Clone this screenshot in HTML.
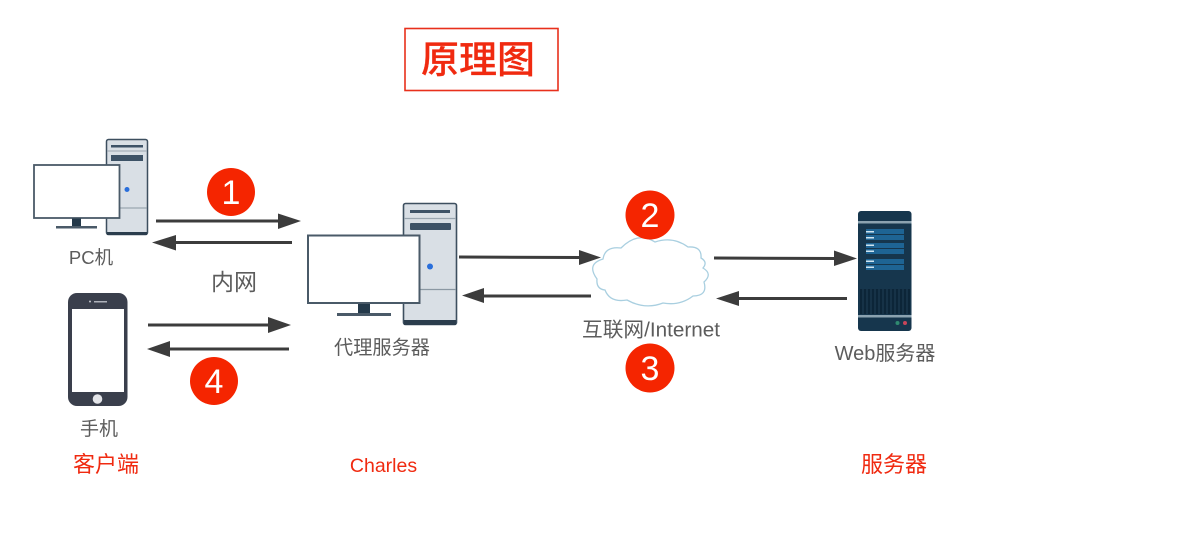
<!DOCTYPE html>
<html>
<head>
<meta charset="utf-8">
<style>
html,body{margin:0;padding:0;background:#fff;width:1190px;height:546px;overflow:hidden}
svg{display:block;filter:blur(.35px)}
text{font-family:"Liberation Sans","Noto Sans CJK SC",sans-serif}
</style>
</head>
<body>
<svg width="1190" height="546" viewBox="0 0 1190 546" xmlns="http://www.w3.org/2000/svg">
<rect width="1190" height="546" fill="#fff"/>

<!-- title -->
<rect x="405" y="28.500" width="153" height="62" fill="#fff" stroke="#e8301c" stroke-width="1.600"/>
<text x="478" y="73" font-size="38" font-weight="500" fill="#f02a10" stroke="#f02a10" stroke-width=".2" text-anchor="middle">原理图</text>

<!-- PC tower -->
<rect x="106.500" y="139.500" width="41" height="95" rx="2" fill="#d9dfe5" stroke="#3d4f5f" stroke-width="1.500"/>
<rect x="107" y="232" width="40" height="3" fill="#2b3d4d"/>
<rect x="111" y="145" width="32" height="2.500" fill="#3d5266"/>
<line x1="107" y1="151" x2="147" y2="151" stroke="#9aa6b0" stroke-width="1"/>
<rect x="111" y="155" width="32" height="6" fill="#3d5266"/>
<line x1="107" y1="208" x2="147" y2="208" stroke="#8b98a3" stroke-width="1"/>
<circle cx="127" cy="189.500" r="2.500" fill="#2a6fdb"/>
<!-- PC monitor -->
<rect x="34" y="165" width="85.500" height="53" fill="#fff" stroke="#4a5a68" stroke-width="1.800"/>
<rect x="72" y="218.500" width="9" height="8" fill="#24394a"/>
<rect x="56" y="226" width="41" height="2.500" fill="#4a5a68"/>

<!-- proxy tower -->
<rect x="403.500" y="203.500" width="53" height="121" rx="2" fill="#d9dfe5" stroke="#3d4f5f" stroke-width="1.600"/>
<rect x="404" y="320" width="52" height="5" fill="#2b3d4d"/>
<rect x="410" y="210" width="40" height="3" fill="#3d5266"/>
<line x1="404" y1="218.500" x2="456" y2="218.500" stroke="#9aa6b0" stroke-width="1.200"/>
<rect x="410" y="223" width="41" height="7" rx="1" fill="#3d5266"/>
<line x1="404" y1="289.500" x2="456" y2="289.500" stroke="#8b98a3" stroke-width="1.200"/>
<circle cx="430" cy="266.500" r="3" fill="#2a6fdb"/>
<!-- proxy monitor -->
<rect x="308" y="235.500" width="111.500" height="67.500" fill="#fff" stroke="#4a5a68" stroke-width="2"/>
<rect x="358" y="304" width="12" height="10" fill="#24394a"/>
<rect x="337" y="313" width="54" height="3" fill="#4a5a68"/>

<!-- phone -->
<rect x="68" y="293" width="59.500" height="113" rx="9" fill="#3a3f4c"/>
<rect x="72" y="309" width="52" height="83" fill="#fff"/>
<rect x="94" y="301" width="13" height="1.500" fill="#aeb2ba"/>
<circle cx="90" cy="301.500" r="1" fill="#c5c8ce"/>
<circle cx="97.500" cy="399" r="4.800" fill="#e4e5e9"/>

<!-- cloud -->
<path d="M603 259 Q605 246 621 248 Q638 231 655 242 Q673 236 688 247 Q702 246 701 258 Q708 262 703 268 Q713 274 704 282 Q708 296 693 296 Q680 306 663 303 Q645 310 627 300 Q610 303 605 290 Q596 289 597 279 Q586 264 603 259 Z" fill="#fff" stroke="#a9cfe0" stroke-width="1.300"/>

<!-- web server -->
<rect x="858" y="211" width="53.500" height="120" rx="3" fill="#16364d"/>
<rect x="858" y="221" width="53.500" height="2.500" fill="#8ba2b0"/>
<rect x="858" y="315" width="53.500" height="2.500" fill="#8ba2b0"/>
<rect x="866" y="229" width="38" height="5" fill="#1e6494"/>
<rect x="866" y="235" width="38" height="5" fill="#1e6494"/>
<rect x="866" y="243" width="38" height="5" fill="#1e6494"/>
<rect x="866" y="249" width="38" height="5" fill="#1e6494"/>
<rect x="866" y="259" width="38" height="5" fill="#1e6494"/>
<rect x="866" y="265" width="38" height="5" fill="#1e6494"/>
<g fill="#cfe4f0">
<rect x="866" y="231" width="8" height="1.500"/><rect x="866" y="237" width="8" height="1.500"/>
<rect x="866" y="244.500" width="8" height="1.500"/><rect x="866" y="250.500" width="8" height="1.500"/>
<rect x="866" y="260.500" width="8" height="1.500"/><rect x="866" y="266.500" width="8" height="1.500"/>
</g>
<rect x="860" y="289" width="50" height="25" fill="#0c2538"/>
<g stroke="#1f3f56" stroke-width="1">
<line x1="863" y1="289" x2="863" y2="314"/><line x1="867" y1="289" x2="867" y2="314"/>
<line x1="871" y1="289" x2="871" y2="314"/><line x1="875" y1="289" x2="875" y2="314"/>
<line x1="879" y1="289" x2="879" y2="314"/><line x1="883" y1="289" x2="883" y2="314"/>
<line x1="887" y1="289" x2="887" y2="314"/><line x1="891" y1="289" x2="891" y2="314"/>
<line x1="895" y1="289" x2="895" y2="314"/><line x1="899" y1="289" x2="899" y2="314"/>
<line x1="903" y1="289" x2="903" y2="314"/><line x1="907" y1="289" x2="907" y2="314"/>
</g>
<circle cx="897.500" cy="323" r="2" fill="#2f8a70"/>
<circle cx="905" cy="323" r="2" fill="#c8455a"/>

<!-- arrows -->
<g stroke="#3c3c3c" stroke-width="3" fill="none">
<line x1="156" y1="221" x2="280" y2="221"/>
<line x1="292" y1="242.500" x2="174" y2="242.500"/>
<line x1="148" y1="325" x2="270" y2="325"/>
<line x1="289" y1="349" x2="168" y2="349"/>
<line x1="459" y1="257" x2="580" y2="257.500"/>
<line x1="591" y1="296" x2="482" y2="296"/>
<line x1="714" y1="258" x2="836" y2="258.500"/>
<line x1="847" y1="298.500" x2="737" y2="298.500"/>
</g>
<g fill="#3c3c3c">
<polygon points="301,221 278,213.500 278,229"/>
<polygon points="152,242.500 176,235 176,250.500"/>
<polygon points="291,325 268,317 268,333"/>
<polygon points="147,349 170,341 170,357"/>
<polygon points="601,257.500 579,250 579,265"/>
<polygon points="462,295.500 484,288 484,303"/>
<polygon points="857,258.500 834,250.500 834,266"/>
<polygon points="716,298.500 739,291 739,306"/>
</g>

<!-- numbered circles -->
<g fill="#f52500">
<circle cx="231" cy="192" r="24"/>
<circle cx="650" cy="215" r="24.500"/>
<circle cx="650" cy="368" r="24.500"/>
<circle cx="214" cy="381" r="24"/>
</g>
<g fill="#fff" font-size="34" text-anchor="middle">
<text x="231" y="204">1</text>
<text x="650" y="227">2</text>
<text x="650" y="380">3</text>
<text x="214" y="393">4</text>
</g>

<!-- labels -->
<g fill="#5c5c5c" text-anchor="middle">
<text x="91" y="264" font-size="18.500">PC机</text>
<text x="234" y="290" font-size="23">内网</text>
<text x="382" y="354" font-size="19.200">代理服务器</text>
<text x="651" y="336.500" font-size="20.500" textLength="138" lengthAdjust="spacingAndGlyphs">互联网/Internet</text>
<text x="885" y="360" font-size="20">Web服务器</text>
<text x="99" y="435" font-size="19">手机</text>
</g>
<g fill="#f02a10" text-anchor="middle" font-size="22">
<text x="106" y="472">客户端</text>
<text x="383.500" y="472" font-size="19.500">Charles</text>
<text x="894" y="472">服务器</text>
</g>
</svg>
</body>
</html>
